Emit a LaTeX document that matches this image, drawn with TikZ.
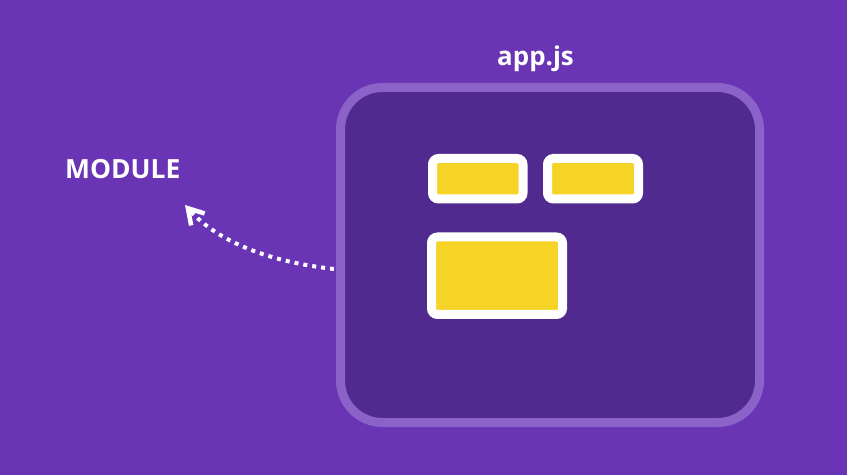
\documentclass[tikz,border=0pt]{standalone}
\usepackage{fontspec}
\setmainfont{Open Sans}
\usetikzlibrary{arrows.meta}
\definecolor{bgpurple}{HTML}{6A35B5}
\definecolor{innerpurple}{HTML}{512A8F}
\definecolor{rimpurple}{HTML}{8A62C8}
\definecolor{yel}{HTML}{F5D327}
\tikzset{
  x=1bp, y=-1bp,
  lbl/.style={text=white, font=\bfseries, inner sep=0pt},
  block/.style={fill=yel, draw=white, line width=9bp, rounded corners=6bp},
}
\begin{document}
\begin{tikzpicture}
\fill[bgpurple] (0,0) rectangle (847,475);
\useasboundingbox (0,0) rectangle (847,475);
% main container
\draw[fill=innerpurple, draw=rimpurple, line width=9bp, rounded corners=42bp]
  (340.5,87.5) rectangle (759.5,422.5);
\coordinate (app) at (340.5,87.5);
% blocks
\draw[block] (432.5,158.5) rectangle (523,199);
\draw[block] (547.5,158.5) rectangle (638.5,199);
\draw[block] (431.5,237) rectangle (562.5,314.5);
% labels
\node[lbl, font=\fontsize{26}{30}\selectfont\bfseries, anchor=base] (title) at (535.5,66) {app.js};
\node[lbl, font=\fontsize{26.5}{30}\selectfont\bfseries, anchor=base west] (module) at (65,179) {MODULE};
% arrow
\coordinate (start) at (334,269);
\coordinate (tip) at (185,205);
\draw[white, line width=4bp, dash pattern=on 4bp off 5bp,
  -{Straight Barb[length=15bp, width=18bp, line width=4.5bp]}]
  (start) .. controls (270,262) and (218,242) .. (tip);
\end{tikzpicture}
\end{document}
